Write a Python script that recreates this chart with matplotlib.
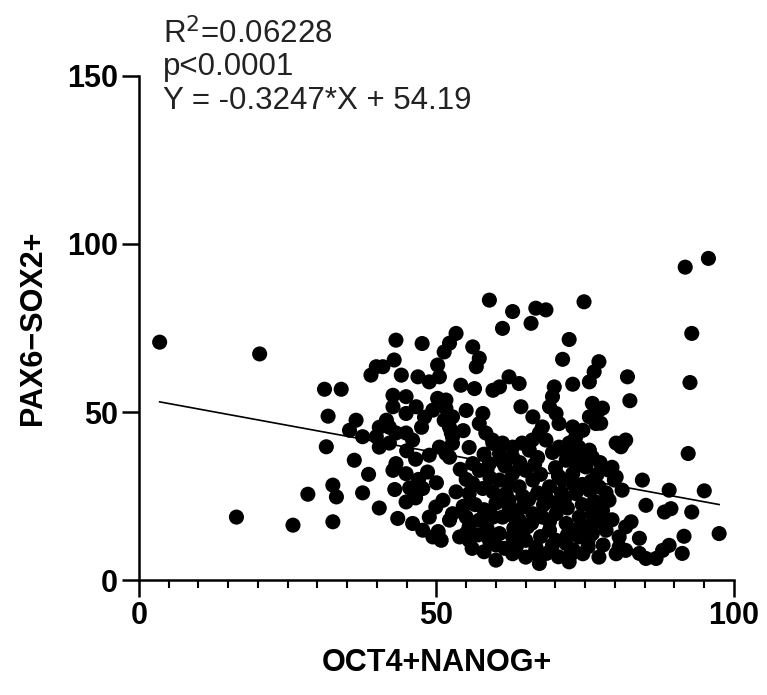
import matplotlib
matplotlib.use("Agg")
import matplotlib.pyplot as plt
from matplotlib.ticker import MultipleLocator

plt.rcParams["font.family"] = ["Liberation Sans", "DejaVu Sans"]

# OCT4+NANOG+ (x) vs PAX6-SOX2+ (y)
oct4_nanog = [
    3.5, 16.4, 20.3, 25.9, 28.4, 31.2, 34.0, 31.8, 31.5, 32.6, 33.2, 32.6,
    36.5, 35.4, 37.6, 39.9, 36.2, 38.6, 37.6, 40.4, 39.9, 39.0, 41.0, 42.9,
    43.2, 47.6, 53.3, 52.2, 51.3, 44.1, 46.9, 48.8, 50.5, 50.2, 54.1, 56.4,
    56.1, 57.2, 56.7, 42.7, 44.9, 46.6, 44.9, 42.7, 41.6, 50.2, 51.6, 52.7,
    49.4, 57.8, 57.2, 40.4, 42.1, 43.2, 44.9, 46.0, 42.1, 40.4, 51.3, 52.5,
    50.5, 52.2, 48.8, 52.7, 43.2, 44.9, 42.7, 48.5, 47.7, 44.9, 43.5, 46.0,
    47.7, 49.4, 50.8, 48.8, 49.9, 51.1, 53.3, 55.5, 57.8, 59.5, 57.2, 58.9,
    56.1, 52.7, 55.0, 57.2, 59.5, 53.9, 55.5, 58.9, 60.6, 60.0, 51.6, 59.5,
    60.6, 55.0, 52.2, 50.3, 56.1,
    58.9, 62.8, 66.7, 68.4, 74.8, 61.1, 65.9, 72.3, 71.2, 77.3, 76.5, 75.7,
    72.9, 62.2, 63.9, 60.6, 59.5, 64.2, 69.8, 69.5, 69.0, 70.1, 76.2, 77.3,
    75.7, 76.8, 66.2, 67.8, 70.6, 72.9, 74.6, 82.1, 82.5, 58.3, 59.4, 61.1,
    62.8, 64.4, 66.1, 67.3, 73.4, 72.3, 73.9, 75.7, 76.2, 74.5, 72.8, 71.8,
    70.6, 80.2, 79.5, 80.2, 79.0, 51.6, 52.2, 52.7,
    81.3, 78.7, 68.4, 65.6, 62.8, 74.6, 71.8, 75.1, 69.0, 71.2, 72.9, 73.4,
    75.7, 77.3, 60.6, 62.8, 65.0, 66.2, 61.7, 63.9, 62.2, 64.5, 66.2, 61.1,
    63.9, 67.8, 70.1, 69.0, 71.8, 74.0, 76.2, 77.9, 62.8, 65.0, 66.7, 70.1,
    71.8, 74.0, 76.2, 78.5, 80.7, 81.8, 62.8, 65.0, 67.3, 72.3, 74.6, 77.3,
    80.2, 63.4, 65.3, 62.2,
    91.8, 95.7, 92.9, 92.6, 92.3, 97.5, 95.0, 92.9, 91.6, 91.3, 77.9, 77.6,
    81.8, 81.0, 79.0, 79.9, 81.2, 84.6, 85.2, 89.1, 88.3, 89.4, 82.7, 84.1,
    89.1, 88.0, 85.2, 86.9, 84.1, 81.8, 80.7,
    56.5, 58.0, 60.0, 58.5, 57.0, 56.0, 58.0, 61.5, 64.0, 67.5, 68.5, 70.5,
    73.0, 75.5, 78.0, 79.5, 76.0, 73.5, 70.0, 68.0, 72.0, 74.5, 76.5, 67.0,
    71.0, 64.5, 62.0, 59.0, 67.5, 70.0, 73.5, 77.0, 64.0, 67.0, 69.5, 77.5,
    61.5, 58.0, 55.0, 54.5, 55.5,
    46.5, 45.5, 47.0, 50.0, 54.0, 55.5, 54.5, 55.0, 47.5, 48.0, 46.5, 43.0,
    45.0,
    63.0, 66.0, 69.0, 72.0, 75.0, 78.0, 60.0, 63.5, 66.5, 69.5, 72.5, 75.5,
    58.5, 61.0, 64.0, 66.5, 70.5, 73.0, 76.0, 78.5, 59.0, 62.5, 65.5, 68.5,
    71.5, 74.5,
]
pax6_sox2 = [
    70.8, 18.8, 67.3, 16.4, 25.6, 56.8, 56.8, 48.8, 39.7, 28.3, 24.8, 17.4,
    47.6, 44.6, 42.7, 42.7, 35.7, 31.5, 26.0, 21.5, 63.5, 61.0, 63.5, 65.5,
    71.4, 70.4, 73.4, 70.5, 67.9, 61.0, 60.5, 59.0, 60.5, 64.0, 58.0, 57.0,
    69.4, 66.0, 63.5, 55.0, 54.6, 51.6, 49.6, 51.6, 47.6, 54.1, 51.1, 48.6,
    50.6, 49.6, 46.6, 45.5, 45.5, 43.8, 43.8, 41.7, 40.8, 39.6, 47.6, 43.8,
    39.6, 36.6, 37.2, 40.7, 34.7, 31.7, 32.7, 32.2, 27.3, 23.3, 18.4, 16.9,
    14.9, 12.9, 11.9, 18.8, 21.8, 23.8, 26.3, 25.8, 27.3, 26.3, 32.7, 34.7,
    34.7, 19.8, 18.8, 17.9, 18.8, 12.9, 11.9, 11.9, 13.9, 6.0, 37.7, 40.7,
    37.7, 14.0, 17.9, 14.5, 28.8,
    83.3, 79.9, 80.9, 80.4, 82.8, 74.9, 76.4, 71.6, 65.7, 65.0, 62.0, 59.0,
    58.3, 60.5, 58.5, 57.5, 56.5, 51.6, 57.5, 54.6, 51.6, 49.6, 52.6, 50.6,
    48.6, 46.6, 48.6, 45.6, 46.6, 45.6, 44.6, 60.5, 53.4, 43.8, 41.7, 40.8,
    39.6, 40.8, 41.7, 43.8, 42.6, 40.8, 39.6, 38.7, 36.6, 35.7, 36.6, 37.8,
    39.6, 40.8, 33.6, 30.7, 23.8, 53.6, 45.5, 42.6,
    40.7, 24.3, 41.7, 38.7, 36.7, 37.7, 35.7, 33.7, 27.8, 29.8, 31.7, 25.8,
    26.8, 27.8, 29.8, 31.7, 32.7, 29.8, 25.8, 27.8, 21.8, 21.8, 19.8, 18.8,
    17.9, 18.8, 19.8, 14.9, 16.9, 18.8, 19.8, 20.8, 12.9, 11.9, 9.9, 11.9,
    10.9, 12.9, 13.9, 14.9, 12.9, 15.9, 7.9, 6.9, 5.0, 5.5, 7.9, 6.9,
    7.9, 9.9, 15.9, 23.8,
    93.1, 95.7, 73.4, 58.8, 37.7, 13.9, 26.6, 20.3, 13.1, 8.0, 51.2, 46.7,
    41.7, 39.7, 32.7, 29.8, 26.8, 29.8, 22.3, 26.8, 20.3, 21.3, 17.4, 12.5,
    10.4, 8.9, 6.5, 6.5, 8.0, 8.9, 9.9,
    22.5, 21.0, 23.0, 15.5, 13.5, 9.5, 8.5, 9.5, 14.0, 13.0, 8.0, 7.0,
    9.0, 10.0, 10.5, 18.0, 16.5, 15.0, 23.0, 22.5, 21.5, 22.5, 23.5, 26.0,
    26.0, 25.0, 29.0, 30.5, 31.5, 33.5, 34.0, 31.5, 35.0, 36.5, 38.0, 35.0,
    34.0, 37.5, 30.0, 22.0, 16.0,
    36.0, 27.5, 30.0, 29.0, 33.0, 39.5, 44.5, 50.5, 45.5, 48.5, 24.5, 27.0,
    38.5,
    15.5, 17.0, 17.5, 13.5, 15.5, 17.0, 10.5, 11.0, 8.0, 10.5, 7.5, 12.0,
    33.0, 35.5, 33.5, 34.5, 31.0, 28.5, 29.5, 26.0, 20.0, 19.5, 24.0, 24.5,
    24.0, 28.5,
]

# linear fit reported in the figure
slope = -0.3247
intercept = 54.19
fit_text = ["R$^2$=0.06228", "p<0.0001", "Y = -0.3247*X + 54.19"]

fig = plt.figure(figsize=(7.67, 6.95), dpi=100)
ax = fig.add_axes([0.181, 0.165, 0.776, 0.726])

ax.scatter(oct4_nanog, pax6_sox2, s=118, color="black", edgecolors="none", zorder=3)

x_fit = [min(oct4_nanog), max(oct4_nanog)]
y_fit = [slope * v + intercept for v in x_fit]
ax.plot(x_fit, y_fit, color="black", lw=1.2, zorder=4)

ax.set_xlim(0, 100)
ax.set_ylim(0, 150)
ax.set_xticks([0, 50, 100])
ax.xaxis.set_minor_locator(MultipleLocator(5))
ax.set_yticks([0, 50, 100, 150])

for side in ["top", "right"]:
    ax.spines[side].set_visible(False)
for side in ["left", "bottom"]:
    ax.spines[side].set_linewidth(1.8)
ax.tick_params(which="major", length=12, width=1.8, labelsize=22, pad=3)
ax.tick_params(which="minor", length=6, width=1.5)
for lbl in ax.get_xticklabels() + ax.get_yticklabels():
    lbl.set_fontweight("bold")

ax.set_xlabel("OCT4+NANOG+", fontsize=22, fontweight="bold", labelpad=12)
ax.set_ylabel("PAX6\u2212SOX2+", fontsize=22, fontweight="bold", labelpad=14)

for i, t in enumerate(fit_text):
    fig.text(0.213, 0.951 - i * 0.048, t, fontsize=22.5, color="#222222", va="center")

fig.savefig("out.png", dpi=100)
